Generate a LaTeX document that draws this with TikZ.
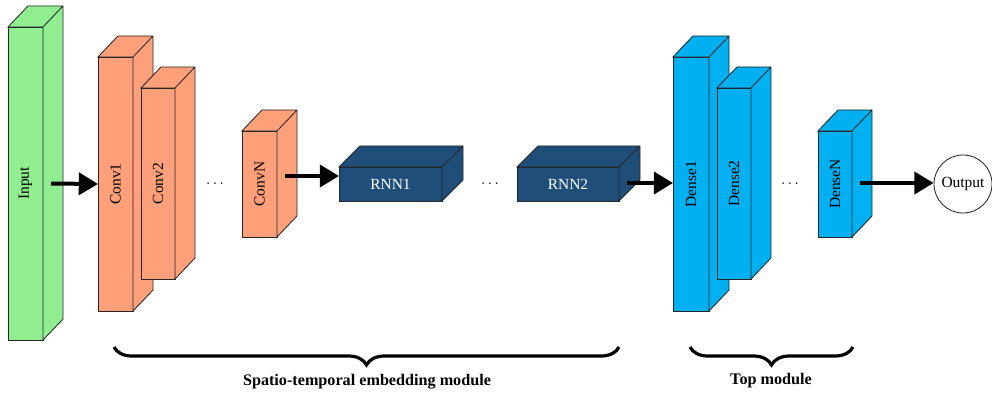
\documentclass[tikz,border=0pt]{standalone}
\usepackage{fontspec}
\setmainfont{Liberation Serif}
\usetikzlibrary{arrows.meta,calc,decorations.pathreplacing}

\definecolor{inputgreen}{RGB}{144,238,144}
\definecolor{convorange}{RGB}{255,160,122}
\definecolor{rnnblue}{RGB}{31,78,121}
\definecolor{denseblue}{RGB}{0,176,240}

\tikzset{
  layer/.style={draw=black!85, line width=0.6pt, inner sep=0pt, outer sep=0pt},
  flow/.style={line width=0.1cm, -{Triangle[length=0.48cm,width=0.55cm]}},
  modulebrace/.style={decorate, decoration={brace, mirror, amplitude=0.45cm}, line width=0.08cm},
  modulelabel/.style={font=\fontsize{11.5}{13}\selectfont\bfseries},
}

\begin{document}
\begin{tikzpicture}[x=0.025cm, y=-0.025cm]
  \fontsize{11}{13}\selectfont
  \useasboundingbox (0,0) rectangle (992,394);

  % Drawing block input
  \node [layer, fill=inputgreen, minimum width=0.875cm, minimum height=7.825cm] (input) at (25.5,183.5) {\rotatebox{90}{Input}};
  \draw [layer, fill=inputgreen] (input.north west) -- ++(20,-21) -- ($(input.north east)+(20,-21)$) -- ($(input.south east)+(20,-21)$) -- (input.south east) -- (input.north east) -- cycle (input.north east) -- ++(20,-21);

  % Drawing block conv1
  \node [layer, fill=convorange, minimum width=0.875cm, minimum height=6.35cm] (conv1) at (115.5,184) {\rotatebox{90}{Conv1}};
  \draw [layer, fill=convorange] (conv1.north west) -- ++(20,-21) -- ($(conv1.north east)+(20,-21)$) -- ($(conv1.south east)+(20,-21)$) -- (conv1.south east) -- (conv1.north east) -- cycle (conv1.north east) -- ++(20,-21);

  % Drawing block conv2
  \node [layer, fill=convorange, minimum width=0.85cm, minimum height=4.775cm] (conv2) at (158,183.5) {\rotatebox{90}{Conv2}};
  \draw [layer, fill=convorange] (conv2.north west) -- ++(20,-21) -- ($(conv2.north east)+(20,-21)$) -- ($(conv2.south east)+(20,-21)$) -- (conv2.south east) -- (conv2.north east) -- cycle (conv2.north east) -- ++(20,-21);

  % Marking dots between conv2 and convN
  \node (dotsconv) at (215,184) {$\cdots$};

  % Drawing block convN
  \node [layer, fill=convorange, minimum width=0.875cm, minimum height=2.65cm] (convN) at (259.5,184) {\rotatebox{90}{ConvN}};
  \draw [layer, fill=convorange] (convN.north west) -- ++(20,-21) -- ($(convN.north east)+(20,-21)$) -- ($(convN.south east)+(20,-21)$) -- (convN.south east) -- (convN.north east) -- cycle (convN.north east) -- ++(20,-21);

  % Drawing block rnn1
  \node [layer, fill=rnnblue, text=white, minimum width=2.575cm, minimum height=0.85cm] (rnn1) at (390.5,184) {RNN1};
  \draw [layer, fill=rnnblue] (rnn1.north west) -- ++(21,-21) -- ($(rnn1.north east)+(21,-21)$) -- ($(rnn1.south east)+(21,-21)$) -- (rnn1.south east) -- (rnn1.north east) -- cycle (rnn1.north east) -- ++(21,-21);

  % Marking dots between rnn1 and rnn2
  \node (dotsrnn) at (490,184) {$\cdots$};

  % Drawing block rnn2
  \node [layer, fill=rnnblue, text=white, minimum width=2.55cm, minimum height=0.85cm] (rnn2) at (568,184) {RNN2};
  \draw [layer, fill=rnnblue] (rnn2.north west) -- ++(21,-21) -- ($(rnn2.north east)+(21,-21)$) -- ($(rnn2.south east)+(21,-21)$) -- (rnn2.south east) -- (rnn2.north east) -- cycle (rnn2.north east) -- ++(21,-21);

  % Drawing block dense1
  \node [layer, fill=denseblue, minimum width=0.9cm, minimum height=6.35cm] (dense1) at (691,184) {\rotatebox{90}{Dense1}};
  \draw [layer, fill=denseblue] (dense1.north west) -- ++(20,-21) -- ($(dense1.north east)+(20,-21)$) -- ($(dense1.south east)+(20,-21)$) -- (dense1.south east) -- (dense1.north east) -- cycle (dense1.north east) -- ++(20,-21);

  % Drawing block dense2
  \node [layer, fill=denseblue, minimum width=0.85cm, minimum height=4.775cm] (dense2) at (734,183.5) {\rotatebox{90}{Dense2}};
  \draw [layer, fill=denseblue] (dense2.north west) -- ++(20,-21) -- ($(dense2.north east)+(20,-21)$) -- ($(dense2.south east)+(20,-21)$) -- (dense2.south east) -- (dense2.north east) -- cycle (dense2.north east) -- ++(20,-21);

  % Marking dots between dense2 and denseN
  \node (dotsdense) at (790,184) {$\cdots$};

  % Drawing block denseN
  \node [layer, fill=denseblue, minimum width=0.85cm, minimum height=2.65cm] (denseN) at (835,184) {\rotatebox{90}{DenseN}};
  \draw [layer, fill=denseblue] (denseN.north west) -- ++(20,-21) -- ($(denseN.north east)+(20,-21)$) -- ($(denseN.south east)+(20,-21)$) -- (denseN.south east) -- (denseN.north east) -- cycle (denseN.north east) -- ++(20,-21);

  % Drawing output circle
  \node [circle, draw=black!85, line width=0.6pt, minimum size=1.45cm, inner sep=0pt] (output) at (963,184) {Output};

  % Drawing arrows
  \draw [flow] ($(input.east)+(8,0)$) -- (conv1.west);
  \draw [flow] ($(convN.east)+(8,-8)$) -- ($(rnn1.west)+(0,-8)$);
  \draw [flow] ($(rnn2.east)+(8,-1)$) -- ($(dense1.west)+(0,-1)$);
  \draw [flow] ($(denseN.east)+(8,-1)$) -- ($(output.west)+(0,-1)$);

  % Drawing module braces
  \coordinate (stleft) at (114,347);
  \coordinate (stright) at (619,347);
  \coordinate (topleft) at (690,347);
  \coordinate (topright) at (853,347);
  \draw [modulebrace] (stleft) -- (stright);
  \draw [modulebrace] (topleft) -- (topright);
  \node [modulelabel] (stlabel) at (367,382) {Spatio-temporal embedding module};
  \node [modulelabel] (toplabel) at (771,381) {Top module};
\end{tikzpicture}
\end{document}
